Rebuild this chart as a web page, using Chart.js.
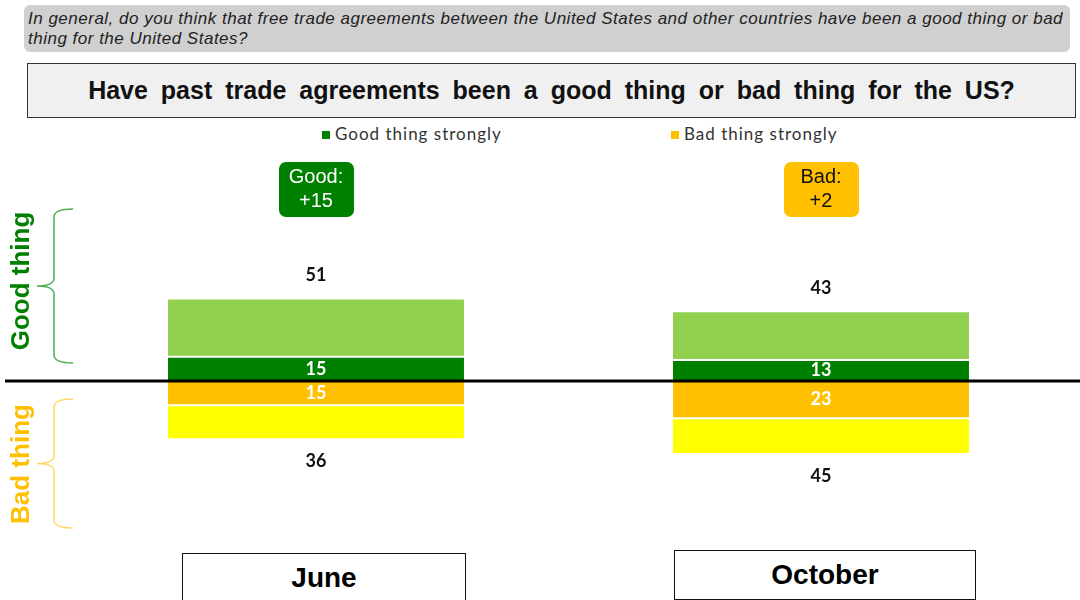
<!DOCTYPE html>
<html>
<head>
<meta charset="utf-8">
<script src="https://cdn.jsdelivr.net/npm/chart.js@4.4.0/dist/chart.umd.min.js"></script>
<style>
  body { margin: 0; background: #fff; width: 1080px; height: 600px; overflow: hidden; position: relative; font-family: "Liberation Sans", Arial, sans-serif; }
  #chart { position: absolute; left: 0; top: 0; }
  .question { position: absolute; left: 24px; top: 5px; width: 1046px; height: 47px; background: #d0d0d0; border-radius: 6px; box-sizing: border-box; padding: 4px 0 0 4px; font-style: italic; font-size: 17px; letter-spacing: 0.5px; line-height: 20px; color: #222; white-space: nowrap; }
  .title { position: absolute; left: 27px; top: 63px; width: 1049px; height: 55px; background: #f0f0f0; border: 1.5px solid #333; box-sizing: border-box; text-align: center; font-weight: bold; font-size: 25px; line-height: 52px; color: #111; word-spacing: 6px; }
  .legend { position: absolute; top: 123px; font-family: Lato, "Noto Sans", sans-serif; font-size: 17px; letter-spacing: 1px; color: #333; }
  .legend span { display: inline-block; width: 8px; height: 8px; margin-right: 5px; vertical-align: 1px; }
  .cat { position: absolute; height: 50px; border: 1.5px solid #111; box-sizing: border-box; text-align: center; font-weight: bold; font-size: 28px; line-height: 48px; background: #fff; }
</style>
</head>
<body>
<div class="question">In general, do you think that free trade agreements between the United States and other countries have been a good thing or bad<br>thing for the United States?</div>
<div class="title">Have past trade agreements been a good thing or bad thing for the US?</div>
<div class="legend" id="lg0" style="left:322px"></div>
<div class="legend" id="lg1" style="left:671px"></div>
<canvas id="chart" width="1080" height="600"></canvas>
<div class="cat" id="cat0" style="left:182px; top:553px; width:284px;"></div>
<div class="cat" id="cat1" style="left:674px; top:550px; width:302px;"></div>
<script>
// survey waves
var categories = ['June', 'October']
// percent answering
var goodStrong = [15, 13]
var goodSomewhat = [36, 30]
var badStrong = [15, 23]
var badSomewhat = [21, 22]

var colGoodStrong = '#008000', colGoodSome = '#92D050'
var colBadStrong = '#FFC000', colBadSome = '#FFFF00'

categories.forEach((c, i) => document.getElementById('cat' + i).innerText = c)
document.getElementById('lg0').innerHTML = '<span style="background:' + colGoodStrong + '"></span>Good thing strongly'
document.getElementById('lg1').innerHTML = '<span style="background:' + colBadStrong + '"></span>Bad thing strongly'

function roundRect(ctx, x, y, w, h, r) {
	ctx.beginPath()
	ctx.moveTo(x + r, y)
	ctx.arcTo(x + w, y, x + w, y + h, r)
	ctx.arcTo(x + w, y + h, x, y + h, r)
	ctx.arcTo(x, y + h, x, y, r)
	ctx.arcTo(x, y, x + w, y, r)
	ctx.closePath()
}

function brace(ctx, x, y1, y2, tipX, color) {
	let ym = (y1 + y2) / 2
	ctx.save()
	ctx.strokeStyle = color
	ctx.lineWidth = 1.5
	ctx.beginPath()
	ctx.moveTo(x + 19, y1)
	ctx.quadraticCurveTo(x, y1, x, y1 + 8)
	ctx.lineTo(x, ym - 8)
	ctx.quadraticCurveTo(x, ym, tipX, ym)
	ctx.quadraticCurveTo(x, ym, x, ym + 8)
	ctx.lineTo(x, y2 - 8)
	ctx.quadraticCurveTo(x, y2, x + 19, y2)
	ctx.stroke()
	ctx.restore()
}

var decorPlugin = {
	id: 'decor',
	afterDatasetsDraw(chart) {
		let ctx = chart.ctx
		let y0 = chart.scales.y.getPixelForValue(0)
		let gs = chart.getDatasetMeta(0).data, gw = chart.getDatasetMeta(1).data
		let bs = chart.getDatasetMeta(2).data, bw = chart.getDatasetMeta(3).data

		// zero line
		ctx.save()
		ctx.strokeStyle = '#000'
		ctx.lineWidth = 3
		ctx.beginPath()
		ctx.moveTo(5, y0)
		ctx.lineTo(1080, y0)
		ctx.stroke()

		ctx.textAlign = 'center'
		ctx.textBaseline = 'middle'
		categories.forEach((c, i) => {
			// strong values inside
			ctx.fillStyle = '#fff'
			ctx.font = 'bold 18px Lato'
			ctx.fillText(goodStrong[i], gs[i].x, (gs[i].y + gs[i].base) / 2)
			ctx.fillText(badStrong[i], bs[i].x, (bs[i].y + bs[i].base) / 2)
			// totals
			let good = goodStrong[i] + goodSomewhat[i]
			let bad = badStrong[i] + badSomewhat[i]
			ctx.fillStyle = '#111'
			ctx.fillText(good, gw[i].x, gw[i].y - 23)
			ctx.fillText(bad, bw[i].x, bw[i].y + 22)
			// net callout
			let net = good - bad
			let bx = gs[i].x
			ctx.fillStyle = net >= 0 ? colGoodStrong : colBadStrong
			roundRect(ctx, bx - 37, 162, 75, 55, 7)
			ctx.fill()
			ctx.fillStyle = net >= 0 ? '#fff' : '#111'
			ctx.font = '20px "Liberation Sans"'
			ctx.fillText(net >= 0 ? 'Good:' : 'Bad:', bx, 177)
			ctx.fillText('+' + Math.abs(net), bx, 201)
		})

		// side braces
		brace(ctx, 54, 209, 363, 37, '#4CAF50')
		brace(ctx, 54, 399, 528, 37, '#FFD966')
		ctx.font = 'bold 26px "Liberation Sans"'
		ctx.fillStyle = '#008000'
		ctx.translate(22, 281)
		ctx.rotate(-Math.PI / 2)
		ctx.fillText('Good thing', 0, 0)
		ctx.rotate(Math.PI / 2)
		ctx.translate(0, 183)
		ctx.fillStyle = '#FFC000'
		ctx.rotate(-Math.PI / 2)
		ctx.fillText('Bad thing', 0, 0)
		ctx.restore()
	}
}

function ds(label, data, color) {
	return {
		label: label, data: data, backgroundColor: color,
		borderColor: '#fff', borderWidth: 1, borderSkipped: false,
		categoryPercentage: 1, barPercentage: 0.59, stack: 's'
	}
}

new Chart(document.getElementById('chart'), {
	type: 'bar',
	data: {
		labels: categories,
		datasets: [
			ds('Good thing strongly', goodStrong, colGoodStrong),
			ds('Good thing somewhat', goodSomewhat, colGoodSome),
			ds('Bad thing strongly', badStrong.map(v => -v), colBadStrong),
			ds('Bad thing somewhat', badSomewhat.map(v => -v), colBadSome)
		]
	},
	options: {
		responsive: false,
		animation: false,
		layout: { padding: { left: 63.5, right: 6.5, top: 0, bottom: 0 } },
		scales: {
			x: { display: false, stacked: true },
			y: { display: false, stacked: true, min: -135.2, max: 235.2 }
		},
		plugins: { legend: { display: false }, tooltip: { enabled: false } }
	},
	plugins: [decorPlugin]
})
</script>
</body>
</html>
